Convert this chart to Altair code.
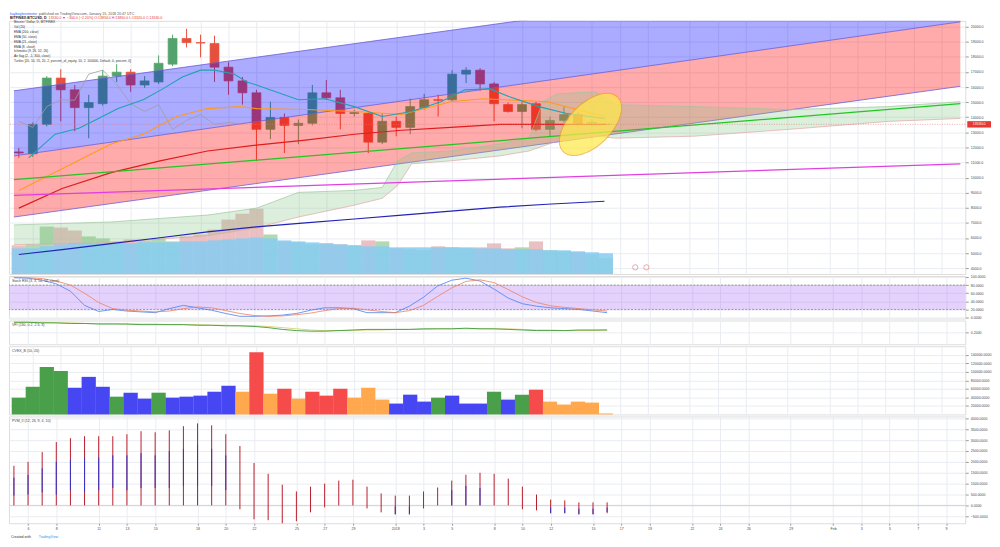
import altair as alt
import pandas as pd

# ---------------- data ----------------
day = list(range(43))  # day 0 = 5 Dec 2017
opens = [11700, 11570, 13530, 16600, 15820, 14640, 14900, 16730, 16990, 16140, 16340, 17520, 19220, 18950, 18890,
         17320, 16410, 15620, 13200, 13990, 13460, 13600, 15620, 15290, 14250, 14250, 12350, 13730, 13330, 14640,
         15160, 15160, 16860, 17120, 16210, 14840, 14380, 14900, 13200, 13790, 14180, 13600, 13530]
highs = [11960, 13660, 16730, 17190, 16140, 15490, 17120, 17520, 17190, 16730, 18100, 19480, 19870, 19480, 19410,
         17650, 16670, 15820, 15030, 14250, 13860, 16140, 16470, 15820, 14510, 14380, 14250, 14050, 15230, 15550,
         15490, 17120, 17320, 17250, 16340, 14970, 15030, 15030, 14050, 14710, 14380, 13860, 13560]
lows = [11310, 11370, 13400, 13730, 13070, 12610, 14770, 16340, 15690, 15950, 16210, 17390, 18630, 17970, 16340,
        15490, 14840, 11110, 12550, 11630, 12220, 13460, 15160, 13200, 14050, 11630, 12220, 12740, 12880, 14510,
        14050, 15030, 16270, 15750, 13730, 14310, 13270, 13070, 12740, 13660, 13400, 13460, 13500]
closes = [11630, 13530, 16600, 15820, 14640, 14970, 16730, 16990, 16140, 16410, 17580, 19220, 18950, 18920, 17320,
          16410, 15620, 13200, 13990, 13460, 13600, 15620, 15290, 14250, 14310, 12350, 13730, 13330, 14710, 15160,
          15130, 16860, 17120, 16210, 14900, 14380, 14840, 13200, 13790, 14180, 13530, 13660, 13540]
volume = [29000, 30000, 48000, 47000, 44000, 38000, 36000, 33000, 35000, 34000, 36000, 33000, 38000, 40000, 45000,
          55000, 61000, 66000, 40000, 33000, 32000, 30000, 31000, 30000, 29000, 34000, 33000, 26000, 25000, 24000,
          28000, 27000, 26000, 27000, 31000, 26000, 27000, 33000, 24000, 23000, 22000, 20000, 16000]
volume_ma = [26000, 26000, 28000, 30000, 31000, 31000, 31000, 31000, 31000, 32000, 32000, 32000, 33000, 33000, 34000,
             35000, 36000, 37000, 36000, 34000, 33000, 32000, 31000, 30000, 29000, 28000, 28000, 27000, 27000, 27000,
             27000, 27000, 27000, 26000, 26000, 25000, 25000, 25000, 24000, 24000, 23000, 22000, 21000]

channel_day = [-0.35, 67.36]
channel_top = [15752, 24444]
channel_mid = [11438, 20327]
channel_bot = [7386, 16052]

trend_day = [-0.35, 67.36]
green_trend = [9869, 14902]
magenta_trend = [8823, 10915]

cloud_day = [-0.35, 6.6, 13.5, 17.0, 20.0, 24.0, 26.0, 27.1, 28.1, 30.9, 34.4, 36.5, 37.5, 38.5, 41.3, 42.7, 48.3,
             55.2, 62.2, 67.36]
cloud_a = [6863, 7059, 7516, 7974, 9019, 9150, 9346, 11111, 11634, 11765, 12222, 12614, 15033, 15556, 15686, 14837,
           14706, 14510, 14706, 15033]
cloud_b = [5555, 5686, 6144, 6667, 7386, 8170, 8627, 9477, 10915, 11111, 11438, 11765, 12091, 12418, 12745, 12614,
           12745, 13203, 13725, 13922]
lagging_shift = 26  # Ichimoku lagging span: close drawn 26 bars back

ema200_day = [0, 3.1, 6.6, 10.1, 13.5, 17, 20.5, 24, 27.4, 30.9, 34.4, 37.8, 41.9]
ema200 = [4902, 5229, 5621, 6013, 6405, 6732, 6993, 7255, 7516, 7778, 8039, 8235, 8431]
ema50_day = [0, 3.1, 6.6, 10.1, 13.5, 17, 20.5, 24, 27.4, 30.9, 34.4, 37.8, 42]
ema50 = [7974, 9281, 10327, 11111, 11765, 12157, 12484, 12876, 13137, 13333, 13529, 13529, 13529]
ema21_day = [0, 3.1, 6.6, 8.9, 11.3, 13.5, 15.8, 17, 20.5, 24, 27.4, 30.9, 33.2, 37.8, 41.9]
ema21 = [9150, 10588, 12222, 12876, 14052, 14575, 14706, 14575, 14510, 14379, 14183, 15033, 15229, 15033, 14052]
ema8_day = [0.7, 2.6, 4.3, 5.7, 7.1, 8.9, 10.3, 11.7, 13, 14, 15.4, 16.3, 17, 20, 21.9, 24, 26, 28.1, 30.2, 31.9,
            33.7, 35.1, 37.2, 39.2, 41.9]
ema8 = [11307, 12876, 13268, 13922, 14575, 15163, 15882, 16667, 17124, 17124, 16863, 16340, 16144, 15163, 15229,
        14706, 14052, 14379, 15033, 15817, 15882, 15359, 14706, 14248, 13922]

stoch_k = [98, 97, 92, 83, 65, 30, 15, 20, 16, 14, 12, 22, 30, 24, 18, 10, 3, 3, 4, 6, 10, 18, 24, 24, 22, 12, 12, 12,
           28, 50, 78, 92, 97, 90, 70, 48, 34, 28, 24, 22, 20, 16, 12]
stoch_d = [99, 98, 96, 90, 80, 60, 37, 22, 18, 16, 14, 16, 22, 26, 24, 17, 10, 5, 3, 4, 7, 11, 17, 22, 23, 19, 15, 12,
           17, 30, 52, 73, 89, 93, 86, 69, 51, 37, 29, 25, 22, 19, 16]

vfi = [0.37, 0.37, 0.36, 0.36, 0.35, 0.35, 0.34, 0.34, 0.34, 0.33, 0.33, 0.33, 0.33, 0.32, 0.32, 0.31, 0.31, 0.30,
       0.28, 0.25, 0.23, 0.22, 0.22, 0.23, 0.24, 0.25, 0.25, 0.25, 0.25, 0.26, 0.26, 0.26, 0.27, 0.26, 0.26, 0.25,
       0.24, 0.23, 0.23, 0.23, 0.24, 0.24, 0.24]
vfi_signal = [0.37, 0.37, 0.37, 0.36, 0.36, 0.35, 0.35, 0.35, 0.34, 0.34, 0.34, 0.33, 0.33, 0.33, 0.32, 0.32, 0.31,
              0.31, 0.30, 0.28, 0.26, 0.24, 0.23, 0.23, 0.23, 0.24, 0.24, 0.25, 0.25, 0.25, 0.26, 0.26, 0.26, 0.26,
              0.26, 0.26, 0.25, 0.24, 0.24, 0.23, 0.23, 0.23, 0.24]

cvol = [39400, 64900, 111300, 102000, 62600, 88100, 64900, 41700, 51000, 37100, 51000, 39400, 41700, 44100, 53300,
        67300, 53300, 146100, 48700, 60300, 37100, 53300, 44100, 60300, 39400, 62600, 34800, 25500, 46400, 30100,
        39400, 44100, 25500, 25500, 53300, 34800, 46400, 58000, 30100, 23200, 30100, 27800, 2300]
cvol_cat = ['g', 'g', 'g', 'g', 'b', 'b', 'b', 'g', 'b', 'b', 'g', 'b', 'b', 'b', 'b', 'b', 'o', 'r', 'o', 'r', 'o',
            'r', 'r', 'r', 'o', 'o', 'o', 'b', 'b', 'b', 'g', 'b', 'b', 'b', 'g', 'b', 'g', 'r', 'o', 'o', 'o', 'o', 'o']

pvm_hi = [1820, 2000, 2450, 2910, 3090, 3180, 3180, 3180, 3270, 3410, 3360, 3450, 3640, 3770, 3680, 3270, 2730, 1950,
          1450, 950, 640, 860, 1000, 1140, 1180, 860, 550, 450, 450, 640, 820, 1140, 1410, 1500, 1450, 1230, 860, 500,
          270, 230, 140, 140, 140]
pvm_lo = [0] * 16 + [-180, -640, -680, -820, -730, -320, -90, 0, 0, -140, -320, -410, -410, -140, 0, 0, 0, 0, 0, 0,
                     -180, -230, -360, -360, -410, -410, -360]
pvm_blue_day = list(range(16)) + [27, 28, 31, 32, 33, 38, 39, 40, 41, 42]
pvm_blue_lo = [450, 500, 600, 500, 700, 600, 700, 800, 700, 800, 800, 800, 900, 900, 900, 700, -410, -410, 0, 0, 0,
               -360, -360, -410, -410, -300]
pvm_blue_hi = [1270, 1400, 1700, 2000, 2100, 2200, 2200, 2300, 2300, 2400, 2300, 2500, 2600, 2800, 2600, 2300, -50,
               -50, 700, 900, 800, -100, -100, -150, -150, -100]

tick_day = [1, 3, 6, 8, 10, 13, 15, 17, 20, 22, 24, 27, 29, 31, 34, 36, 38, 41, 43, 45, 48, 50, 52, 55, 58, 60, 62,
            64, 66]
tick_label = ['6', '8', '11', '13', '15', '18', '20', '22', '25', '27', '29', '2018', '3', '5', '8', '10', '12', '15',
              '17', '19', '22', '24', '26', '29', 'Feb', '3', '5', '7', '9']
price_ticks = list(range(4000, 20001, 1000))
last_price = 13530
event_day = [44.1, 44.9]
event_price = [4050, 4050]

legend_lines = ["Bitcoin / Dollar, D, BITFINEX", "Vol (20)", "EMA (200, close)", "EMA (50, close)",
                "EMA (21, close)", "EMA (8, close)", "Ichimoku (9, 26, 52, 26)", "Air flag (2, -1, 300, close)",
                "Turtles [20, 10, 55, 20, 2, percent_of_equity, 10, 2, 100000, Default, 0, percent, 0]"]

# ---------------- styling ----------------
W = 967
H_MAIN, H_STOCH, H_VFI, H_CVOL, H_PVM = 256, 43, 24, 69, 108
FONT = "Liberation Sans"
GRID = "#e9ecf1"
LBL = "#4a4a4a"
FS = 3.6
UP, DN = "#55a36c", "#e6513d"

one = pd.DataFrame({"a": [0]})
xscale = alt.Scale(domain=[-0.35, 67.36], nice=False, zero=False)
label_expr = ("[" + ",".join("'%s'" % t for t in tick_label) + "][indexof([" +
              ",".join(str(d) for d in tick_day) + "], datum.value)]")


def X(field, labels=False):
    ax = alt.Axis(values=tick_day, grid=True, gridColor=GRID, gridWidth=1, domain=False, title=None,
                  labels=labels, ticks=labels, labelExpr=label_expr, labelFontSize=FS, labelColor=LBL,
                  labelFont=FONT, tickSize=2, tickColor="#999", labelPadding=1, labelOverlap=False)
    return alt.X(field + ":Q", scale=xscale, axis=ax)


def Yf(field, scale, values, fmt):
    return alt.Y(field + ":Q", scale=scale,
                 axis=alt.Axis(orient="right", values=values, format=fmt, grid=True, gridColor=GRID, title=None,
                               labelFontSize=FS, labelColor=LBL, labelFont=FONT, tickSize=3, tickColor="#999",
                               domain=False, labelPadding=2, labelOverlap=False))


pscale = alt.Scale(domain=[3608, 20392], nice=False, zero=False)


def PY(f):
    return Yf(f, pscale, price_ticks, ".1f")


def line(dd, vv, color, width=1.1, dash=None):
    df = pd.DataFrame({"d": dd, "p": vv})
    kw = dict(color=color, strokeWidth=width, clip=True)
    if dash:
        kw["strokeDash"] = dash
    return alt.Chart(df).mark_line(**kw).encode(x=X("d"), y=PY("p"))


def txt(x, y, s, color="#333", size=FS, weight="normal", align="left", baseline="middle"):
    return alt.Chart(one).mark_text(align=align, baseline=baseline, fontSize=size, color=color, font=FONT,
                                    fontWeight=weight).encode(x=alt.value(x), y=alt.value(y), text=alt.value(s))


# ---------------- main pane ----------------
cdf = pd.DataFrame({"d": day, "o": opens, "h": highs, "l": lows, "c": closes, "v": volume, "vm": volume_ma})
ccol = alt.condition("datum.c >= datum.o", alt.value(UP), alt.value(DN))
vcol = alt.condition("datum.c >= datum.o", alt.value("#9fcf9f"), alt.value("#e6b0b4"))
vscale = alt.Scale(domain=[0, 256000], nice=False, zero=True)
vol_bars = alt.Chart(cdf).mark_bar(size=14.3, opacity=0.8).encode(
    x=X("d"), y=alt.Y("v:Q", scale=vscale, axis=None), color=vcol)
vol_ma = alt.Chart(cdf).mark_bar(size=14.3, color="#86cbf2", opacity=0.85).encode(
    x=X("d"), y=alt.Y("vm:Q", scale=vscale, axis=None))
vol_layer = alt.layer(vol_bars, vol_ma)

wicks = alt.Chart(cdf).mark_rule(strokeWidth=1).encode(x=X("d"), y=PY("l"), y2="h", color=ccol)
bodies = alt.Chart(cdf).mark_bar(size=9, strokeWidth=0.7).encode(x=X("d"), y=PY("o"), y2="c", color=ccol,
                                                                  stroke=ccol)

lag = pd.DataFrame({"d": [d - lagging_shift for d in day if d >= lagging_shift],
                    "p": [c for d, c in zip(day, closes) if d >= lagging_shift]})
lag_line = alt.Chart(lag).mark_line(color="#9e9e9e", strokeWidth=0.8).encode(x=X("d"), y=PY("p"))

chdf = pd.DataFrame({"d": channel_day, "top": channel_top, "mid": channel_mid, "bot": channel_bot})
blue_band = alt.Chart(chdf).mark_area(color="#0000ff", opacity=0.33, clip=True).encode(
    x=X("d"), y=PY("mid"), y2="top")
red_band = alt.Chart(chdf).mark_area(color="#ff0000", opacity=0.33, clip=True).encode(
    x=X("d"), y=PY("bot"), y2="mid")
ch_lines = alt.Chart(chdf).transform_fold(["top", "mid", "bot"], as_=["k", "p"]).mark_line(
    color="#6b5bd6", strokeWidth=0.8, clip=True).encode(x=X("d"), y=PY("p"), detail="k:N")

cldf = pd.DataFrame({"d": cloud_day, "a": cloud_a, "b": cloud_b})
cloud = alt.Chart(cldf).mark_area(color="#8cc68c", opacity=0.3, clip=True).encode(x=X("d"), y=PY("b"), y2="a")
cloud_la = alt.Chart(cldf).mark_line(color="#9cc79c", strokeWidth=0.7, clip=True).encode(x=X("d"), y=PY("a"))
cloud_lb = alt.Chart(cldf).mark_line(color="#e0a6a6", strokeWidth=0.7, clip=True).encode(x=X("d"), y=PY("b"))

ell = alt.Chart(pd.DataFrame({"d": [40.9], "p": [13530]})).mark_point(
    shape="M -1 0 A 1 0.55 0 1 1 1 0 A 1 0.55 0 1 1 -1 0 Z", size=6084, angle=315, filled=True,
    color="#ffe94a", opacity=0.72, stroke="#f0a020", strokeWidth=1).encode(x=X("d"), y=PY("p"))

lpdf = pd.DataFrame({"p": [last_price], "t": ["%.1f" % last_price]})
last_rule = alt.Chart(lpdf).mark_rule(color="#e57373", strokeWidth=0.6, strokeDash=[1, 1.5]).encode(y=PY("p"))
tag = alt.Chart(lpdf).mark_point(shape="M -1 -0.27 L 1 -0.27 L 1 0.27 L -1 0.27 Z", size=576, filled=True,
                                 color="#e53935", opacity=1).encode(x=alt.value(W + 14), y=PY("p"))
tag_t = alt.Chart(lpdf).mark_text(fontSize=FS, color="white", font=FONT).encode(
    x=alt.value(W + 14), y=PY("p"), text="t:N")

evdf = pd.DataFrame({"d": event_day, "p": event_price})
events = alt.Chart(evdf).mark_point(shape="circle", size=28, color="#e06666", strokeWidth=0.8).encode(
    x=X("d"), y=PY("p"))

legend = alt.Chart(one).mark_text(align="left", baseline="top", fontSize=3.3, lineHeight=5, color="#333",
                                  font=FONT).encode(x=alt.value(5), y=alt.value(-1), text=alt.value(legend_lines))

hdr = [txt(1, -7, "kaybogleextreme", "#2962ff"),
       txt(30, -7, "published on TradingView.com, January 15, 2018 20:47 UTC", "#555"),
       txt(1, -2.5, "BITFINEX:BTCUSD, D", "#222", weight="bold"),
       txt(40, -2.5, "13530.0 \u25bc \u2212304.0 (\u22122.20%) O:13834.0 H:13850.0 L:13320.0 C:13530.0",
           "#e53935")]

price_layer = alt.layer(
    wicks, bodies, blue_band, red_band, ch_lines, cloud, cloud_la, cloud_lb, lag_line,
    line(ema200_day, ema200, "#2323b5", 1.2),
    line(ema50_day, ema50, "#e01b1b", 1.2),
    line(ema21_day, ema21, "#ff9a1f", 1.1),
    line(ema8_day, ema8, "#1fa3b0", 1.1),
    line(trend_day, green_trend, "#25c425", 1.2),
    line(trend_day, magenta_trend, "#e03fe0", 1.3),
    ell, last_rule, tag, tag_t, events, legend, *hdr)

main = alt.layer(vol_layer, price_layer).resolve_scale(y="independent").properties(width=W, height=H_MAIN)

# ---------------- stoch RSI ----------------
sscale = alt.Scale(domain=[-2.4, 102.4], nice=False, zero=False)


def SY(f):
    return Yf(f, sscale, [0, 20, 40, 60, 80, 100], ".4f")


sdf = pd.DataFrame({"d": day, "k": stoch_k, "dd": stoch_d})
s_band = alt.Chart(pd.DataFrame({"lo": [20], "hi": [80]})).mark_rect(color="#9d5cf5", opacity=0.28).encode(
    x=alt.value(0), x2=alt.value(W), y=SY("lo"), y2="hi")
s_rules = alt.Chart(pd.DataFrame({"v": [20, 80]})).mark_rule(color="#777", strokeWidth=0.7,
                                                             strokeDash=[2, 1.5]).encode(y=SY("v"))
s_k = alt.Chart(sdf).mark_line(color="#4a7ff0", strokeWidth=0.8).encode(x=X("d"), y=SY("k"))
s_d = alt.Chart(sdf).mark_line(color="#f07e5e", strokeWidth=0.8).encode(x=X("d"), y=SY("dd"))
stoch = alt.layer(s_band, s_rules, s_k, s_d, txt(3, 5, "Stoch RSI (3, 3, 14, 14, close)", "#444")).properties(
    width=W, height=H_STOCH)

# ---------------- VFI ----------------
fscale = alt.Scale(domain=[0, 0.4], nice=False, zero=False)
fdf = pd.DataFrame({"d": day, "v": vfi, "s": vfi_signal})
f_s = alt.Chart(fdf).mark_line(color="#d6d36a", strokeWidth=0.9).encode(x=X("d"), y=Yf("s", fscale, [0.2], ".4f"))
f_v = alt.Chart(fdf).mark_line(color="#3d9a3d", strokeWidth=0.9).encode(x=X("d"), y=Yf("v", fscale, [0.2], ".4f"))
vfi_p = alt.layer(f_s, f_v, txt(3, 5, "VFI (130, 0.2, 2.5, 3)", "#444")).properties(width=W, height=H_VFI)

# ---------------- colored volume ----------------
cscale = alt.Scale(domain=[0, 160000], nice=False, zero=True)
cvdf = pd.DataFrame({"d": day, "v": cvol, "cat": cvol_cat})
cv_bars = alt.Chart(cvdf).mark_bar(size=14.4).encode(
    x=X("d"), y=Yf("v", cscale, list(range(20000, 140001, 20000)), ".4f"),
    color=alt.Color("cat:N", scale=alt.Scale(domain=["g", "b", "o", "r"],
                                             range=["#4aa04a", "#4646f2", "#ffa84d", "#f54b4b"]), legend=None))
cvol_p = alt.layer(cv_bars, txt(3, 5, "CVEX_B (10, 20)", "#444")).properties(width=W, height=H_CVOL)

# ---------------- bottom oscillator ----------------
oscale = alt.Scale(domain=[-820, 4090], nice=False, zero=False)


def OY(f):
    return Yf(f, oscale, list(range(-500, 4001, 500)), ".4f")


odf = pd.DataFrame({"d": day, "hi": pvm_hi, "lo": pvm_lo})
bdf = pd.DataFrame({"d": pvm_blue_day, "lo": pvm_blue_lo, "hi": pvm_blue_hi})
o_red = alt.Chart(odf).mark_rule(color="#b71c2c", strokeWidth=1).encode(x=X("d", True), y=OY("lo"), y2="hi")
o_blue = alt.Chart(bdf).mark_rule(color="#3434c8", strokeWidth=1).encode(x=X("d", True), y=OY("lo"), y2="hi")
zero = alt.Chart(pd.DataFrame({"v": [0]})).mark_rule(color="#cfd3da", strokeWidth=1).encode(y=OY("v"))
pvm_p = alt.layer(zero, o_red, o_blue, txt(3, 5, "PVM_II (12, 26, 9, 4, 10)", "#444"),
                  txt(2, H_PVM + 14, "Created with", "#333"),
                  txt(30, H_PVM + 14, "TradingView", "#2196f3")).properties(width=W, height=H_PVM)

chart = alt.vconcat(main, stoch, vfi_p, cvol_p, pvm_p, spacing=2, bounds="flush", padding=0).configure_view(
    stroke="#b7bbc3", strokeWidth=0.8).configure(background="white")

chart.save("out.html", embed_options={"renderer": "svg", "actions": False})
